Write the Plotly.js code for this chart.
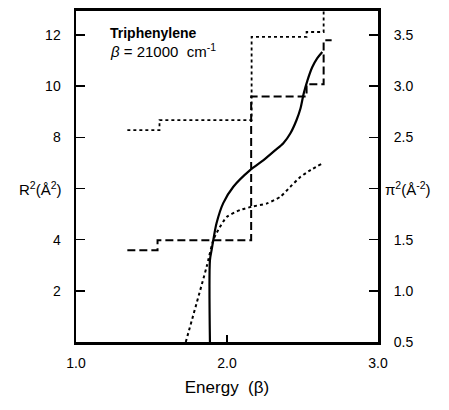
<!DOCTYPE html>
<html>
<head>
<meta charset="utf-8">
<script src="https://cdn.plot.ly/plotly-3.0.1.min.js"></script>
<style>html,body{margin:0;padding:0;background:#fff;}#chart{width:449px;height:410px;}</style>
</head>
<body>
<div id="chart"></div>
<script>
// Solid curve (left axis, R^2)
const solidE = [1.887, 1.887, 1.898, 1.909, 1.931, 1.975, 2.042, 2.153, 2.242, 2.32, 2.373, 2.42, 2.46, 2.487, 2.507, 2.533, 2.565, 2.598, 2.631];
const solidR = [0, 3.20, 3.59, 3.98, 4.65, 5.43, 6.07, 6.72, 7.11, 7.5, 7.77, 8.16, 8.67, 9.14, 9.69, 10.23, 10.75, 11.10, 11.34];
// Dotted curve
const dotE = [1.727, 1.865, 1.909, 1.942, 1.998, 2.087, 2.165, 2.265, 2.353, 2.42, 2.487, 2.553, 2.631];
const dotR = [0, 2.94, 3.98, 4.38, 4.89, 5.16, 5.29, 5.42, 5.68, 6.07, 6.46, 6.72, 6.98];
// Dashed step
const dashStepE = [1.34, 1.54, 2.16, 2.527, 2.64, 2.693];
const dashStepR = [3.59, 3.98, 9.6, 10.08, 11.8, 11.8];
// Dotted step
const dotStepE = [1.34, 1.553, 2.163, 2.527, 2.64];
const dotStepR = [8.28, 8.67, 11.93, 12.12, 13.6];

const leftTicks = [2, 4, 6, 8, 10, 12];
const leftText = ['2', '4', '', '8', '10', '12'];
const rightTicks = [0.5, 1.0, 1.5, 2.0, 2.5, 3.0, 3.5];
const rightText = ['0.5', '1.0', '1.5', '', '2.5', '3.0', '3.5'];
const xTicks = [1, 2, 3];
const xText = ['1.0', '2.0', '3.0'];

const yMax = 12.94;
const F = 'Liberation Sans, Arial, sans-serif';

const traces = [
  {x: solidE, y: solidR, mode: 'lines', line: {color: '#000', width: 2.2, shape: 'spline', smoothing: 0.8}, hoverinfo: 'skip'},
  {x: dotE, y: dotR, mode: 'lines', line: {color: '#000', width: 2, dash: 'dot', shape: 'spline', smoothing: 0.6}, hoverinfo: 'skip'},
  {x: dashStepE, y: dashStepR, mode: 'lines', line: {color: '#000', width: 2, dash: '8px,4px', shape: 'hv'}, hoverinfo: 'skip'},
  {x: dotStepE, y: dotStepR, mode: 'lines', line: {color: '#000', width: 1.8, dash: 'dot', shape: 'hv'}, hoverinfo: 'skip'},
  {x: [2], y: [0.5], yaxis: 'y2', mode: 'markers', marker: {opacity: 0}, hoverinfo: 'skip'}
];

const layout = {
  width: 449, height: 410,
  margin: {l: 76, r: 71, t: 11, b: 68},
  paper_bgcolor: '#fff', plot_bgcolor: '#fff',
  showlegend: false,
  font: {family: F, color: '#000', size: 14},
  xaxis: {
    range: [1, 3], tickvals: xTicks, ticktext: xText,
    ticks: 'inside', ticklen: 7, tickwidth: 1.5, tickcolor: '#000',
    showline: true, linewidth: 3, linecolor: '#000', mirror: true,
    showgrid: false, zeroline: false,
    tickfont: {size: 14}, ticklabelstandoff: 6,
    title: {text: 'Energy  (β)', font: {size: 17}, standoff: 12}
  },
  yaxis: {
    range: [0, yMax], tickvals: leftTicks, ticktext: leftText,
    ticks: 'inside', ticklen: 9, tickwidth: 1.5, tickcolor: '#000',
    showline: true, linewidth: 2.5, linecolor: '#000',
    showgrid: false, zeroline: false,
    tickfont: {size: 14}, ticklabelstandoff: 10
  },
  yaxis2: {
    overlaying: 'y', side: 'right',
    range: [0.5, 0.5 + yMax / 4], tickvals: rightTicks, ticktext: rightText,
    ticks: 'inside', ticklen: 9, tickwidth: 1.5, tickcolor: '#000',
    showline: true, linewidth: 3, linecolor: '#000',
    showgrid: false, zeroline: false,
    tickfont: {size: 14}, ticklabelstandoff: 10
  },
  annotations: [
    {xref: 'paper', yref: 'y', x: 0, y: 6, xanchor: 'right', yanchor: 'middle', xshift: -12,
     text: 'R<sup>2</sup>(Å<sup>2</sup>)', showarrow: false, font: {size: 15}},
    {xref: 'paper', yref: 'y2', x: 1, y: 2.0, xanchor: 'left', yanchor: 'middle', xshift: 5,
     text: 'π<sup>2</sup>(Å<sup>-2</sup>)', showarrow: false, font: {size: 15}},
    {xref: 'paper', yref: 'paper', x: 0.105, y: 0.935, xanchor: 'left', yanchor: 'middle',
     text: '<b>Triphenylene</b>', showarrow: false, font: {size: 14}},
    {xref: 'paper', yref: 'paper', x: 0.105, y: 0.88, xanchor: 'left', yanchor: 'middle',
     text: '<i>β</i> = 21000  cm<sup>-1</sup>', showarrow: false, font: {size: 15}}
  ]
};

Plotly.newPlot('chart', traces, layout, {staticPlot: true, displayModeBar: false});
</script>
</body>
</html>
